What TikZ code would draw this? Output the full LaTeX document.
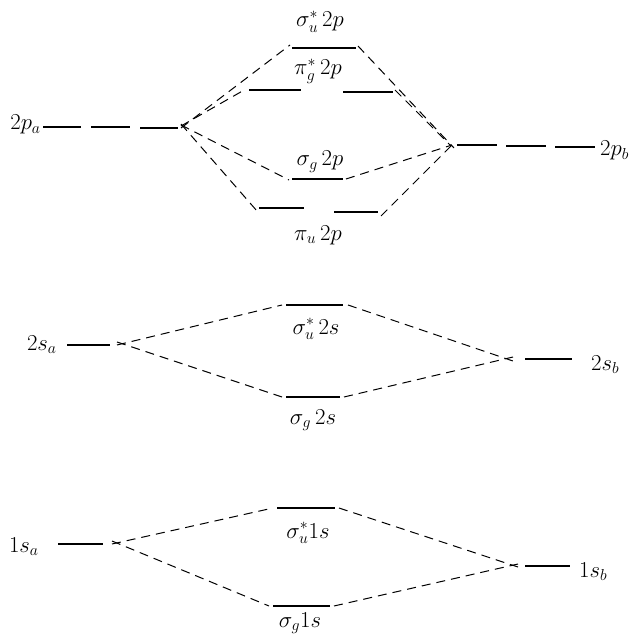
\documentclass[tikz,border=0pt]{standalone}
\usepackage{graphicx}
\newcommand\mylbl[1]{\scalebox{1.32}{\LARGE$#1$}}
\begin{document}
\begin{tikzpicture}[x=1pt,y=-1pt,
  lvl/.style={line width=2.4pt},
  conn/.style={line width=1pt, dash pattern=on 9pt off 6pt},
  lab/.style={inner sep=0pt}]
\useasboundingbox (0,0) rectangle (633,636);

% ---------- 2p ----------
\coordinate (pa1l) at (43,127); \coordinate (pa1r) at (81,127);
\coordinate (pa2l) at (91,127); \coordinate (pa2r) at (130,127);
\coordinate (pa3l) at (140,128); \coordinate (pa3r) at (178,128);
\coordinate (paj) at (181,128);

\coordinate (pb1l) at (457,145); \coordinate (pb1r) at (497,145);
\coordinate (pb2l) at (506,146); \coordinate (pb2r) at (546,146);
\coordinate (pb3l) at (555,147); \coordinate (pb3r) at (595,147);
\coordinate (pbj) at (454,145);

\coordinate (su2pl) at (292,48); \coordinate (su2pr) at (356,48);
\coordinate (pg2p1l) at (249,90); \coordinate (pg2p1r) at (301,90);
\coordinate (pg2p2l) at (343,92); \coordinate (pg2p2r) at (393,92);
\coordinate (sg2pl) at (292,179); \coordinate (sg2pr) at (343,179);
\coordinate (pu2p1l) at (259,208); \coordinate (pu2p1r) at (304,208);
\coordinate (pu2p2l) at (334,212); \coordinate (pu2p2r) at (378,212);

\foreach \a/\b in {pa1l/pa1r,pa2l/pa2r,pa3l/pa3r,pb1l/pb1r,pb2l/pb2r,pb3l/pb3r,
  su2pl/su2pr,pg2p1l/pg2p1r,pg2p2l/pg2p2r,sg2pl/sg2pr,pu2p1l/pu2p1r,pu2p2l/pu2p2r}
  \draw[lvl] (\a) -- (\b);

\draw[conn] (paj) -- ([xshift=-2pt,yshift=3pt]su2pl);
\draw[conn] ([yshift=2pt]paj) -- ([xshift=-3pt,yshift=1pt]pg2p1l);
\draw[conn] ([yshift=3pt]paj) -- ([xshift=-3pt,yshift=-1pt]sg2pl);
\draw[conn] ([yshift=4pt]paj) -- ([xshift=-2pt,yshift=-3pt]pu2p1l);
\draw[conn] ([xshift=2pt,yshift=2pt]su2pr) -- ([yshift=-3pt]pbj);
\draw[conn] ([xshift=2pt,yshift=2pt]pg2p2r) -- ([xshift=-3pt,yshift=-1pt]pbj);
\draw[conn] ([xshift=3pt]sg2pr) -- ([xshift=-2pt]pbj);
\draw[conn] ([xshift=3pt,yshift=-4pt]pu2p2r) -- ([xshift=0pt,yshift=2pt]pbj);

\node[lab,anchor=base east] (l2pa) at (41,130) {\mylbl{2p_a}};
\node[lab,anchor=base west] (l2pb) at (600,156) {\mylbl{2p_b}};
\node[lab,anchor=base] (lsu2p) at (320,27) {\mylbl{\sigma_u^*\,2p}};
\node[lab,anchor=base] (lpg2p) at (318,75) {\mylbl{\pi_g^*\,2p}};
\node[lab,anchor=base] (lsg2p) at (320,166) {\mylbl{\sigma_g\,2p}};
\node[lab,anchor=base] (lpu2p) at (318,240) {\mylbl{\pi_u\,2p}};

% ---------- 2s ----------
\coordinate (sal) at (67,345); \coordinate (sar) at (110,345);
\coordinate (sbl) at (525,359); \coordinate (sbr) at (572,359);
\coordinate (su2sl) at (286,305); \coordinate (su2sr) at (343,305);
\coordinate (sg2sl) at (286,397); \coordinate (sg2sr) at (340,397);
\foreach \a/\b in {sal/sar,sbl/sbr,su2sl/su2sr,sg2sl/sg2sr}
  \draw[lvl] (\a) -- (\b);
\draw[conn] ([xshift=7pt]sar) -- ([xshift=-4pt]su2sl);
\draw[conn] ([xshift=7pt,yshift=3pt]sar) -- ([xshift=-4pt]sg2sl);
\draw[conn] ([xshift=5pt]su2sr) -- ([xshift=-12pt,yshift=-2pt]sbl);
\draw[conn] ([xshift=4pt]sg2sr) -- ([xshift=-12pt,yshift=2pt]sbl);

\node[lab,anchor=base east] (l2sa) at (57,350) {\mylbl{2s_a}};
\node[lab,anchor=base west] (l2sb) at (591,370) {\mylbl{2s_b}};
\node[lab,anchor=base] (lsu2s) at (316,334) {\mylbl{\sigma_u^*\,2s}};
\node[lab,anchor=base] (lsg2s) at (313,424) {\mylbl{\sigma_g\,2s}};

% ---------- 1s ----------
\coordinate (oal) at (58,544); \coordinate (oar) at (103,544);
\coordinate (obl) at (525,566); \coordinate (obr) at (570,566);
\coordinate (su1sl) at (277,508); \coordinate (su1sr) at (335,508);
\coordinate (sg1sl) at (273,606); \coordinate (sg1sr) at (330,606);
\foreach \a/\b in {oal/oar,obl/obr,su1sl/su1sr,sg1sl/sg1sr}
  \draw[lvl] (\a) -- (\b);
\draw[conn] ([xshift=9pt]oar) -- ([xshift=-4pt]su1sl);
\draw[conn] ([xshift=9pt,yshift=3pt]oar) -- ([xshift=-4pt]sg1sl);
\draw[conn] ([xshift=4pt]su1sr) -- ([xshift=-7pt,yshift=-1pt]obl);
\draw[conn] ([xshift=4pt]sg1sr) -- ([xshift=-7pt,yshift=2pt]obl);

\node[lab,anchor=base east] (l1sa) at (39,552) {\mylbl{1s_a}};
\node[lab,anchor=base west] (l1sb) at (579,577) {\mylbl{1s_b}};
\node[lab,anchor=base] (lsu1s) at (308,538) {\mylbl{\sigma_u^*1s}};
\node[lab,anchor=base] (lsg1s) at (300,627) {\mylbl{\sigma_g1s}};
\end{tikzpicture}
\end{document}
